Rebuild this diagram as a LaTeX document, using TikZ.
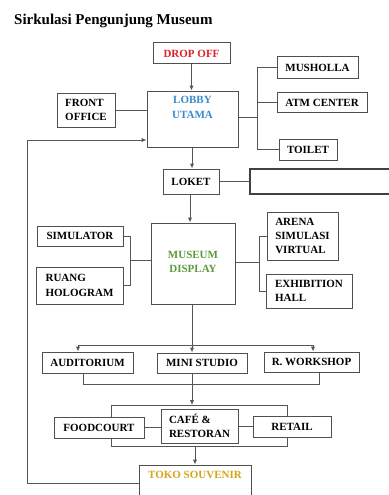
\documentclass[tikz,border=0pt]{standalone}
\usepackage{fontspec}
\setmainfont{Liberation Serif}
\usetikzlibrary{arrows.meta,calc}
\definecolor{boxc}{HTML}{505050}
\definecolor{linec}{HTML}{555555}
\definecolor{dropred}{HTML}{E0202A}
\definecolor{lobbyblue}{HTML}{3A8AD0}
\definecolor{musgreen}{HTML}{5E9A3C}
\definecolor{tokogold}{HTML}{D4A41C}
\tikzset{
  box/.style={draw=boxc, line width=1pt, fill=white, inner sep=0pt, align=left,
              font=\bfseries\fontsize{11}{14.3}\selectfont},
  lbl/.style={inner sep=0pt, align=center, font=\bfseries\fontsize{11}{14.5}\selectfont},
  conn/.style={draw=linec, line width=1pt},
  arr/.style={conn, -{Latex[length=5pt,width=4.5pt]}}
}
\begin{document}
\begin{tikzpicture}[x=1pt,y=-1pt]
\useasboundingbox (0,0) rectangle (388,495);
\fill[white] (0,0) rectangle (388,495);
% title
\node[anchor=base west, inner sep=0pt, font=\bfseries\fontsize{15}{17}\selectfont] (title) at (14,25) {Sirkulasi Pengunjung Museum};
% frame behind food row
\coordinate (rtl) at (111,405);
\coordinate (rbr) at (287,446);
\draw[conn] (rtl) rectangle (rbr);
% boxes
\node[box, minimum width=77pt, minimum height=21pt] (drop) at (191.5,53.5) {\textcolor{dropred}{DROP OFF}};
\node[box, minimum width=91pt, minimum height=56pt] (lobby) at (192.5,119) {};
\node[lbl, text=lobbyblue] (lobbyt) at (192.5,107.5) {LOBBY\\UTAMA};
\node[box, minimum width=58pt, minimum height=34pt] (front) at (86,110) {FRONT\\OFFICE};
\node[box, minimum width=81pt, minimum height=21pt] (mush) at (317.5,67.5) {MUSHOLLA};
\node[box, minimum width=90pt, minimum height=20pt] (atm) at (322,102.5) {ATM CENTER};
\node[box, minimum width=58pt, minimum height=21pt] (toilet) at (308,149.5) {TOILET};
\node[box, minimum width=56pt, minimum height=25pt] (loket) at (191,181.5) {LOKET};
\node[box, minimum width=86pt, minimum height=20pt] (sim) at (80,236) {SIMULATOR};
\node[box, minimum width=87pt, minimum height=37pt] (holo) at (79.5,285.5) {RUANG\\HOLOGRAM};
\node[box, minimum width=84pt, minimum height=81pt] (museum) at (193,263.5) {};
\node[lbl, text=musgreen] (musetxt) at (193,262) {MUSEUM\\DISPLAY};
\node[box, minimum width=71pt, minimum height=48pt] (arena) at (302.5,236) {ARENA\\SIMULASI\\VIRTUAL};
\node[box, minimum width=86pt, minimum height=34pt] (exh) at (309,291) {EXHIBITION\\HALL};
\node[box, minimum width=91pt, minimum height=21pt] (audi) at (87.5,362.5) {AUDITORIUM};
\node[box, minimum width=90pt, minimum height=20pt] (mini) at (202,363) {MINI STUDIO};
\node[box, minimum width=95pt, minimum height=20pt] (rw) at (311.5,362) {R. WORKSHOP};
\node[box, minimum width=90pt, minimum height=21pt] (food) at (99,427.5) {FOODCOURT};
\node[box, minimum width=77pt, minimum height=34pt] (cafe) at (199.5,426) {CAFÉ \&\\RESTORAN};
\node[box, minimum width=78pt, minimum height=21pt] (retail) at (292,426.5) {RETAIL};
\node[box, minimum width=112pt, minimum height=40pt] (toko) at (195,485) {};
\node[lbl, text=tokogold] (tokot) at (195,475) {TOKO SOUVENIR};
% box right of loket (runs off the page)
\coordinate (ext) at (250,181.5);
\draw[draw=black!75, line width=1.1pt] (400,169) -- (250,169) -- (250,194) -- (400,194);
% connectors
\coordinate (jr) at (257,117);
\coordinate (jl) at (130,260);
\coordinate (jr2) at (259,262);
\coordinate (spl) at (78,345);
\coordinate (spr) at (313,345);
\coordinate (cl) at (83,384);
\coordinate (cr) at (319,384);
\coordinate (ma) at (192,384);
\coordinate (lx) at (190,0);
\coordinate (tx) at (195,446);
\coordinate (rt) at (27,140);
\coordinate (rb) at (27,483);
\draw[arr] (drop.south) -- (drop.south |- lobby.north);
\draw[conn] (front.east) -- (front.east -| lobby.west);
\draw[conn] (lobby.east |- jr) -- (jr);
\draw[conn] (mush.west) -- (mush.west -| jr) -- (toilet.west -| jr) -- (toilet.west);
\draw[conn] (atm.west) -- (atm.west -| jr);
\draw[arr] (lobby.south -| ma) -- (ma |- loket.north);
\draw[conn] (loket.east) -- (ext);
\draw[arr] (loket.south -| lx) -- (lx |- museum.north);
\draw[conn] (sim.east) -- (sim.east -| jl) -- (holo.east -| jl) -- (holo.east);
\draw[conn] (jl) -- (jl -| museum.west);
\draw[conn] (museum.east |- jr2) -- (jr2);
\draw[conn] (arena.west) -- (arena.west -| jr2) -- (exh.west -| jr2) -- (exh.west);
\draw[conn] (museum.south -| ma) -- (ma |- spl);
\draw[conn] (spl) -- (spr);
\draw[arr] (spl) -- (spl |- audi.north);
\draw[arr] (ma |- spl) -- (ma |- mini.north);
\draw[arr] (spr) -- (spr |- rw.north);
\draw[conn] (cl |- audi.south) -- (cl) -- (cr) -- (cr |- rw.south);
\draw[arr] (ma |- mini.south) -- (ma |- rtl);
\draw[conn] (food.east) -- (food.east -| cafe.west);
\draw[conn] (cafe.east) -- (cafe.east -| retail.west);
\draw[arr] (tx) -- (tx |- toko.north);
\draw[arr] (toko.west |- rb) -- (rb) -- (rt) -- (rt -| lobby.west);
\end{tikzpicture}
\end{document}
